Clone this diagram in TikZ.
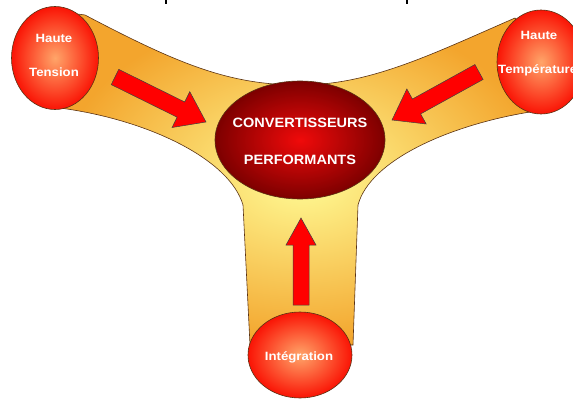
\documentclass[tikz,border=0pt]{standalone}
\usepackage{fontspec}
\setmainfont{Liberation Sans}
\usetikzlibrary{calc,shapes.geometric}
\definecolor{bandout}{RGB}{243,165,45}
\definecolor{bandin}{RGB}{255,252,150}
\definecolor{ballin}{RGB}{255,165,105}
\definecolor{ballout}{RGB}{250,20,5}
\definecolor{corein}{RGB}{240,10,10}
\definecolor{coreout}{RGB}{125,0,0}
\definecolor{edgecol}{RGB}{90,50,20}
\tikzset{
  ball/.style={ellipse, draw=edgecol, line width=0.6pt, shading=radial, inner color=ballin, outer color=ballout, inner sep=0pt},
  core/.style={ellipse, draw=edgecol, line width=0.6pt, shading=radial, inner color=corein, outer color=coreout, inner sep=0pt},
  lbl/.style={text=white, font=\bfseries\fontsize{12}{13}\selectfont, inner sep=0pt, xscale=1.1, transform shape},
  corelbl/.style={text=white, font=\bfseries\fontsize{13.5}{14}\selectfont, inner sep=0pt, xscale=1.075, transform shape},
  fatarrow/.style={fill=red, draw=black!75, line width=0.5pt, line join=miter},
  bandstyle/.style={draw=edgecol, line width=0.6pt, inner color=bandin, outer color=bandout},
  cutmark/.style={line width=1.3pt}
}
\newcommand{\fatarr}[5]{%
  \coordinate (#1base) at ($(#2)!#5!(#1)$);
  \draw[fatarrow] ($(#1)!#3!90:(#2)$) -- ($(#1base)!#3!-90:(#1)$) -- ($(#1base)!#4!-90:(#1)$) -- (#2)
     -- ($(#1base)!#4!90:(#1)$) -- ($(#1base)!#3!90:(#1)$) -- ($(#1)!#3!-90:(#2)$) -- cycle;
}
\begin{document}
\begin{tikzpicture}[x=1pt,y=-1pt]
\useasboundingbox (0,0) rectangle (573,401);
% band
\shade[bandstyle] (62,12) -- (85,15) .. controls (180,65) and (230,85) .. (300,85)
  .. controls (370,85) and (430,55) .. (515,18) -- (545,62) -- (530,112)
  .. controls (450,125) and (370,160) .. (358,205) -- (353,345) -- (250,345) -- (243,205)
  .. controls (230,160) and (150,120) .. (60,108) -- cycle;
% arrows
\coordinate (la) at (115,77);
\coordinate (lt) at (206,122);
\coordinate (ra) at (479,72);
\coordinate (rt) at (392,120);
\coordinate (ba) at (301,305);
\coordinate (bt) at (301,218);
\fatarr{la}{lt}{8.5pt}{20pt}{28pt}
\fatarr{ra}{rt}{8.5pt}{20pt}{28pt}
\fatarr{ba}{bt}{8pt}{15pt}{27pt}
% balls
\node[ball, minimum width=87pt, minimum height=103pt] (ht) at (55,58) {};
\node[lbl] (ht1) at (54,38) {Haute};
\node[lbl] (ht2) at (54,72) {Tension};
\node[ball, minimum width=88pt, minimum height=104pt] (hT) at (541,62) {};
\node[lbl] (hT1) at (539,35) {Haute};
\node[lbl, anchor=west] (hT2) at (498,70) {Température};
\node[ball, minimum width=104pt, minimum height=86pt] (int) at (300,355) {};
\node[lbl] (int1) at (299,357) {Intégration};
\node[core, minimum width=170pt, minimum height=118pt] (cv) at (300,140) {};
\node[corelbl] (cv1) at (300,123) {CONVERTISSEURS};
\node[corelbl] (cv2) at (300,160) {PERFORMANTS};
% cut-off marks at top
\coordinate (m1) at (166,0);
\coordinate (m2) at (407,0);
\draw[cutmark] (m1) -- ++(0,4);
\draw[cutmark] (m2) -- ++(0,4);
\end{tikzpicture}
\end{document}
